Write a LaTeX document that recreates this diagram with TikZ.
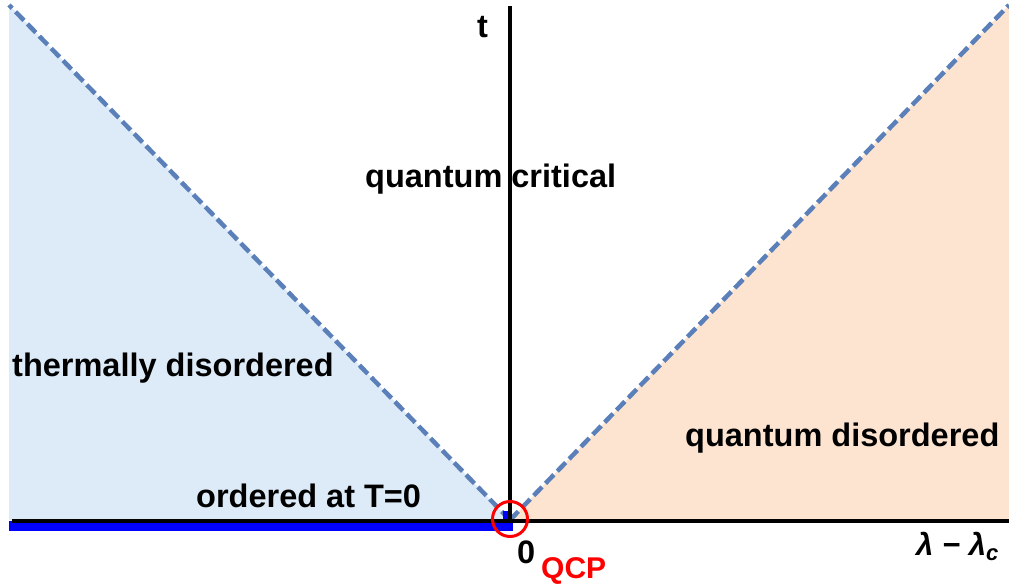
\documentclass[tikz,border=0pt]{standalone}
\usepackage{fontspec}
\setmainfont{Liberation Sans}
\definecolor{lblue}{HTML}{DDEBF8}
\definecolor{lorange}{HTML}{FCE4D0}
\definecolor{dashblue}{HTML}{5A7FB9}
\definecolor{qred}{HTML}{FF0000}
\begin{document}
\begin{tikzpicture}[x=1pt,y=-1pt,
  lbl/.style={font=\fontsize{32.5}{36}\selectfont\bfseries, inner sep=0pt, anchor=base west},
  boundary/.style={draw=dashblue, line width=4.5pt, dash pattern=on 12pt off 5pt},
  axis/.style={draw=black, line width=3.8pt}]
\useasboundingbox (0,0) rectangle (1009,586);
\coordinate (O) at (510,520);
\coordinate (TL) at (9,5);
\coordinate (TR) at (1009,5);
\coordinate (BL) at (9,520);
\coordinate (BR) at (1009,520);
\coordinate (AL) at (12,521);
\coordinate (AR) at (1009,521);
\coordinate (AT) at (510,6);
\coordinate (AB) at (510,522);
% fills
\fill[lblue] (TL) -- (O) -- (BL) -- cycle;
\fill[lorange] (O) -- (TR) -- (BR) -- cycle;
% dashed boundaries
\draw[boundary] (O) -- (TL);
\draw[boundary] (O) -- (TR);
% ordered line
\fill[blue] (9,521) rectangle (513,531);
\fill[blue] (503,511) -- (511,511) -- (511,519) -- (503,519) -- cycle;
% axes
\draw[axis] (AL) -- (AR);
\draw[axis] (AB) -- (AT);
% QCP circle
\node[draw=qred, line width=3pt, circle, minimum size=35pt, inner sep=0pt] (qcp) at (510,519) {};
% labels
\node[lbl] (tlab) at (477,38) {t};
\node[lbl] (qc) at (365,187) {quantum critical};
\node[lbl] (td) at (12,376) {thermally disordered};
\node[lbl] (qd) at (685,446) {quantum disordered};
\node[lbl] (ord) at (196,507) {ordered at T=0};
\node[lbl] (zero) at (517,563) {0};
\node[lbl, text=qred, font=\fontsize{30}{34}\selectfont\bfseries] (qcplab) at (541,578) {QCP};
\node[lbl, font=\fontsize{31}{34}\selectfont\bfseries\itshape] (xlab) at (916,555) {λ − λ\raisebox{-5pt}{\fontsize{22}{24}\selectfont c}};
\end{tikzpicture}
\end{document}
